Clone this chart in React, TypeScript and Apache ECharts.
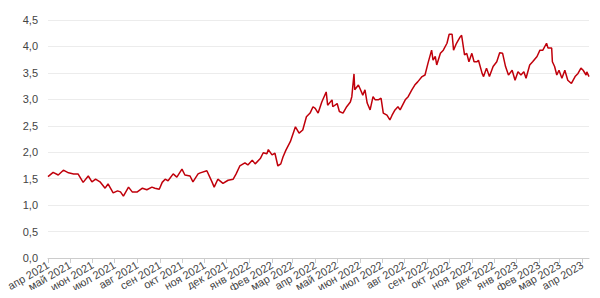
import React, { useEffect, useRef } from "react";
import * as echarts from "echarts";

const startYear = 2021;
const startMonth = 3; // April (0-based)
const startDay = 1;
const endOffset = 739;

const dayOffsets = [
  0, 7, 14, 21, 28, 35, 41, 48, 55, 60, 65, 71, 78, 82, 89, 95, 99, 103, 110, 115,
  122, 129, 135, 142, 146, 152, 156, 160, 164, 171, 176, 183, 187, 194, 198, 205, 208, 217, 224, 227,
  232, 239, 246, 253, 257, 262, 269, 273, 279, 283, 290, 294, 299, 301, 306, 310, 314, 318, 321, 325,
  331, 338, 343, 348, 353, 358, 362, 365, 369, 374, 380, 382, 388, 389, 395, 398, 403, 408, 413, 415,
  418, 419, 424, 426, 430, 433, 436, 440, 444, 447, 451, 455, 458, 463, 467, 470, 474, 478, 481, 488,
  492, 497, 501, 505, 511, 515, 519, 524, 526, 529, 531, 536, 540, 545, 548, 552, 554, 558, 563, 565,
  569, 572, 575, 579, 582, 586, 588, 593, 595, 599, 603, 608, 613, 617, 621, 625, 629, 634, 638, 642,
  646, 650, 653, 658, 662, 668, 672, 676, 681, 683, 688, 689, 692, 695, 698, 702, 706, 710, 715, 720,
  724, 728, 731, 735, 736, 739,
];

const values = [
  1.54, 1.62, 1.57, 1.66, 1.61, 1.59, 1.59, 1.43, 1.55, 1.44, 1.49, 1.44, 1.32, 1.4, 1.23, 1.27, 1.25, 1.17, 1.34, 1.25,
  1.25, 1.32, 1.29, 1.34, 1.32, 1.3, 1.43, 1.49, 1.46, 1.59, 1.53, 1.68, 1.57, 1.55, 1.44, 1.59, 1.61, 1.65, 1.44, 1.34,
  1.49, 1.41, 1.47, 1.49, 1.59, 1.74, 1.8, 1.76, 1.85, 1.78, 1.88, 1.99, 1.97, 2.05, 1.95, 1.98, 1.74, 1.78, 1.91, 2.04,
  2.2, 2.48, 2.36, 2.42, 2.67, 2.74, 2.86, 2.83, 2.74, 2.95, 3.14, 2.89, 2.99, 2.86, 2.92, 2.77, 2.74, 2.86, 2.95, 3.05,
  3.48, 3.18, 3.27, 3.21, 3.08, 3.18, 2.93, 2.8, 3.05, 2.99, 2.99, 3.02, 2.74, 2.7, 2.61, 2.7, 2.8, 2.86, 2.8, 2.99,
  3.05, 3.18, 3.27, 3.33, 3.43, 3.46, 3.68, 3.93, 3.74, 3.81, 3.65, 3.87, 3.93, 4.06, 4.23, 4.23, 3.93, 4.06, 4.18, 4.21,
  3.84, 3.87, 3.71, 3.87, 3.71, 3.71, 3.74, 3.49, 3.43, 3.59, 3.43, 3.62, 3.71, 3.88, 3.87, 3.62, 3.46, 3.55, 3.36, 3.52,
  3.46, 3.52, 3.4, 3.65, 3.71, 3.81, 3.93, 3.93, 4.06, 3.97, 3.97, 3.71, 3.62, 3.46, 3.55, 3.4, 3.55, 3.36, 3.3, 3.43,
  3.49, 3.59, 3.55, 3.46, 3.52, 3.43,
];

const monthNames = ["янв", "фев", "мар", "апр", "май", "июн", "июл", "авг", "сен", "окт", "ноя", "дек"];

const dateAt = (offset: number) => new Date(startYear, startMonth, startDay + offset).getTime();

export default function App() {
  const ref = useRef<HTMLDivElement>(null);
  useEffect(() => {
    if (!ref.current) return;
    const chart = echarts.init(ref.current, null, { renderer: "svg" });
    const data = dayOffsets.map((d, i) => [dateAt(d), values[i]]);
    chart.setOption({
      animation: false,
      grid: { left: 48, right: 11, top: 20, bottom: 40, containLabel: false },
      xAxis: {
        type: "time",
        min: dateAt(0),
        max: dateAt(endOffset),
        maxInterval: 31 * 86400000,
        minInterval: 27 * 86400000,
        axisLine: { lineStyle: { color: "#ccc" } },
        axisTick: { show: true, length: 5, lineStyle: { color: "#ccc" } },
        splitLine: { show: false },
        axisLabel: {
          rotate: 30,
          fontSize: 11,
          color: "#444",
          fontFamily: "Liberation Sans, Arial, sans-serif",
          margin: 6,
          showMaxLabel: false,
          formatter: (v: number) => {
            const d = new Date(v);
            return monthNames[d.getMonth()] + " " + d.getFullYear();
          },
        },
      },
      yAxis: {
        type: "value",
        min: 0,
        max: 4.5,
        interval: 0.5,
        axisLine: { show: false },
        axisTick: { show: false },
        splitLine: { lineStyle: { color: "#ececec" } },
        axisLabel: {
          fontSize: 11,
          color: "#444",
          fontFamily: "Liberation Sans, Arial, sans-serif",
          margin: 10,
          formatter: (v: number) => v.toFixed(1).replace(".", ","),
        },
      },
      series: [
        {
          type: "line",
          data,
          showSymbol: false,
          lineStyle: { color: "#c0000b", width: 1.5 },
          itemStyle: { color: "#c0000b" },
        },
      ],
    });
    return () => chart.dispose();
  }, []);
  return <div ref={ref} style={{ width: 600, height: 298, margin: -8 }} />;
}
